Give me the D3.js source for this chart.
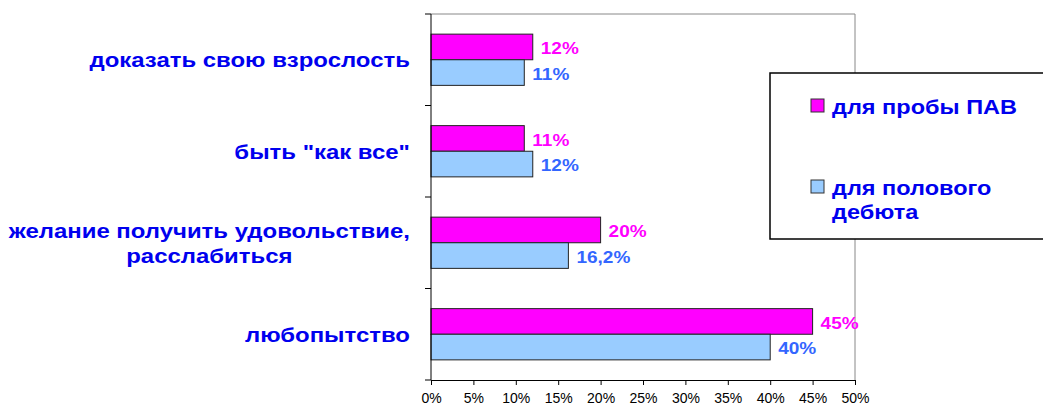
<!DOCTYPE html>
<html>
<head>
<meta charset="utf-8">
<script src="https://d3js.org/d3.v7.min.js"></script>
<style>
  body { margin: 0; background: #fff; }
  svg { display: block; font-family: Arial, "Liberation Sans", sans-serif; }
</style>
</head>
<body>
<div id="chart"></div>
<script>
// Data
const categories = [
  ["доказать свою взрослость"],
  ["быть \"как все\""],
  ["желание получить удовольствие,", "расслабиться"],
  ["любопытство"]
];
const seriesNames = ["для пробы ПАВ", "для полового дебюта"];
const pav   = [12, 11, 20, 45];
const debut = [11, 12, 16.2, 40];
const pavLabels   = ["12%", "11%", "20%", "45%"];
const debutLabels = ["11%", "12%", "16,2%", "40%"];
const xTicks = [0, 5, 10, 15, 20, 25, 30, 35, 40, 45, 50];

const width = 1043, height = 407;
const margin = { top: 14, right: 188, bottom: 27, left: 431 };
const innerWidth  = width - margin.left - margin.right;
const innerHeight = height - margin.top - margin.bottom;

const pink = "#ff00ff", lightBlue = "#99ccff";
const pinkText = "#ff00ff", blueText = "#3366ff", catText = "#0000ee";
const stretch = 1.12;    // the original bold text is a bit wider than Arial
const catStretch = 1.14;

const svg = d3.select("#chart").append("svg")
    .attr("width", width)
    .attr("height", height);

const g = svg.append("g")
    .attr("transform", `translate(${margin.left},${margin.top})`);

const x = d3.scaleLinear().domain([0, 50]).range([0, innerWidth]);
const y = d3.scaleBand().domain(d3.range(categories.length)).range([0, innerHeight]).paddingInner(0.44).paddingOuter(0.22);
const sub = d3.scaleBand().domain([0, 1]).range([0, y.bandwidth()]);

// plot border (top and right, gray)
g.append("path")
  .attr("d", `M0,0H${innerWidth}V${innerHeight}`)
  .attr("fill", "none")
  .attr("stroke", "#888")
  .attr("stroke-width", 1);

// bars
const rows = categories.map((c, i) => ({ i, vals: [pav[i], debut[i]], labs: [pavLabels[i], debutLabels[i]] }));
const fills = [pink, lightBlue];
const txtCol = [pinkText, blueText];

rows.forEach(r => {
  r.vals.forEach((v, k) => {
    const yy = y(r.i) + sub(k);
    g.append("rect")
      .attr("x", x(0))
      .attr("y", yy)
      .attr("width", x(v) - x(0))
      .attr("height", sub.bandwidth())
      .attr("fill", fills[k])
      .attr("stroke", "#222")
      .attr("stroke-width", 1);
    g.append("text")
      .attr("transform", `translate(${x(v) + 8},${yy + sub.bandwidth() / 2 + 1}) scale(${stretch},1)`)
      .attr("dy", "0.36em")
      .attr("fill", txtCol[k])
      .style("font-size", "17px")
      .style("font-weight", "bold")
      .text(r.labs[k]);
  });
});

// x axis
const xAxis = g.append("g")
  .attr("transform", `translate(0,${innerHeight})`)
  .call(d3.axisBottom(x).tickValues(xTicks).tickFormat(d => d + "%").tickSize(5).tickPadding(8));
xAxis.select(".domain").attr("stroke", "#000");
xAxis.selectAll("text").style("font-size", "14px").attr("fill", "#000");

// y axis (tick marks at band edges)
const yEdges = d3.range(categories.length + 1).map(i => i * innerHeight / categories.length);
g.append("line").attr("x1", 0).attr("x2", 0).attr("y1", 0).attr("y2", innerHeight).attr("stroke", "#000");
g.selectAll(".ytick").data(yEdges).join("line")
  .attr("class", "ytick")
  .attr("x1", -6).attr("x2", 0)
  .attr("y1", d => d).attr("y2", d => d)
  .attr("stroke", "#000");

// category labels
categories.forEach((lines, i) => {
  const cy = y(i) + y.bandwidth() / 2;
  const lh = 25;
  const t = g.append("text")
    .attr("fill", catText)
    .style("font-size", "21px")
    .style("font-weight", "bold")
    .attr("text-anchor", "middle");
  const spans = lines.map((s, j) => t.append("tspan")
    .attr("x", 0)
    .attr("y", (j - (lines.length - 1) / 2) * lh)
    .attr("dy", "0.36em")
    .text(s));
  const w = d3.max(spans, s => s.node().getComputedTextLength()) * catStretch;
  t.attr("transform", `translate(${-21 - w / 2},${cy}) scale(${catStretch},1)`);
});

// legend
const legend = svg.append("g").attr("transform", "translate(770,73)");
legend.append("rect")
  .attr("width", 290).attr("height", 166)
  .attr("fill", "#fff").attr("stroke", "#000").attr("stroke-width", 1.5);

const legendItems = [
  { fill: pink, lines: [seriesNames[0]], y: 33 },
  { fill: lightBlue, lines: ["для полового", "дебюта"], y: 114 }
];
legendItems.forEach(it => {
  legend.append("rect")
    .attr("x", 41).attr("y", it.y - 7)
    .attr("width", 13).attr("height", 13)
    .attr("fill", it.fill).attr("stroke", "#333");
  const t = legend.append("text")
    .attr("transform", `translate(62,${it.y}) scale(${stretch},1)`)
    .attr("fill", catText)
    .style("font-size", "21px")
    .style("font-weight", "bold");
  it.lines.forEach((s, j) => t.append("tspan")
    .attr("x", 0)
    .attr("y", j * 24)
    .attr("dy", "0.36em")
    .text(s));
});
</script>
</body>
</html>
